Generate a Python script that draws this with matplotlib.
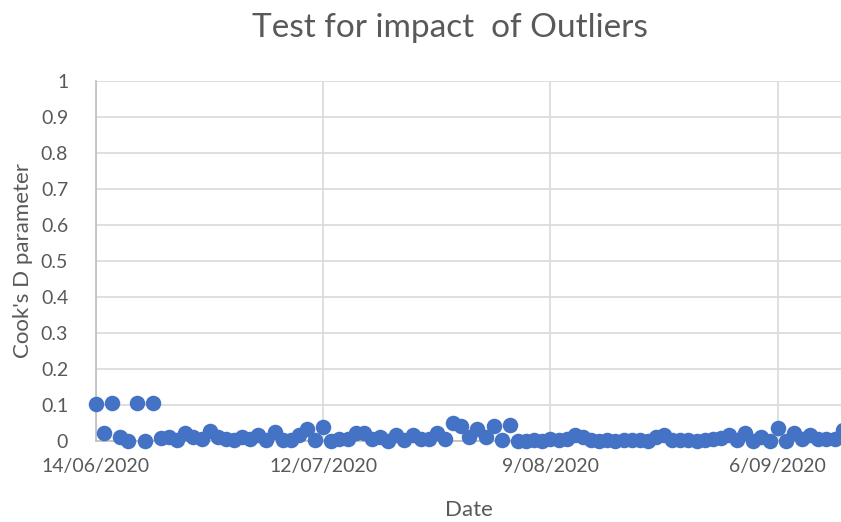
import matplotlib
matplotlib.use("Agg")
import matplotlib.pyplot as plt
import matplotlib.dates as mdates
import pandas as pd
import numpy as np

plt.rcParams['font.family'] = ['Lato', 'DejaVu Sans']

start_date = "2020-06-14"
cooks_d = [
    0.104, 0.021, 0.106, 0.010, 0.001, 0.106, 0.000, 0.106, 0.009, 0.010,
    0.003, 0.023, 0.010, 0.005, 0.028, 0.010, 0.006, 0.003, 0.010, 0.006,
    0.016, 0.003, 0.025, 0.003, 0.003, 0.016, 0.032, 0.003, 0.039, 0.000,
    0.006, 0.005, 0.021, 0.021, 0.006, 0.010, 0.000, 0.016, 0.003, 0.016,
    0.005, 0.005, 0.021, 0.006, 0.051, 0.043, 0.012, 0.032, 0.012, 0.041,
    0.003, 0.044, 0.000, 0.000, 0.003, 0.000, 0.006, 0.003, 0.006, 0.018,
    0.010, 0.003, 0.000, 0.003, 0.000, 0.003, 0.004, 0.003, 0.000, 0.010,
    0.016, 0.003, 0.003, 0.003, 0.000, 0.003, 0.006, 0.008, 0.016, 0.003,
    0.022, 0.000, 0.010, 0.000, 0.035, 0.000, 0.022, 0.006, 0.016, 0.006,
    0.005, 0.005, 0.030,
]
tick_dates = ["2020-06-14", "2020-07-12", "2020-08-09", "2020-09-06"]
tick_labels = ["14/06/2020", "12/07/2020", "9/08/2020", "6/09/2020"]
y_ticks = [0, 0.1, 0.2, 0.3, 0.4, 0.5, 0.6, 0.7, 0.8, 0.9, 1]
y_tick_labels = ["0", "0.1", "0.2", "0.3", "0.4", "0.5", "0.6", "0.7", "0.8", "0.9", "1"]

dates = pd.date_range(start_date, periods=len(cooks_d), freq="D")

fig = plt.figure(figsize=(8.41, 5.22), dpi=100)
ax = fig.add_axes([96/841, 1-441/522, (841-96)/841, (441-81)/522])

grid_c = "#d9d9d9"
text_c = "#595959"

ax.scatter(dates, cooks_d, s=125, color="#4472C4", zorder=3, clip_on=False, linewidths=0)

x0 = mdates.date2num(pd.Timestamp(start_date))
ax.set_xlim(x0, x0 + 91.8)
ax.set_ylim(0, 1)

ax.set_xticks(pd.to_datetime(tick_dates))
ax.set_xticklabels(tick_labels)
ax.set_yticks(y_ticks)
ax.set_yticklabels(y_tick_labels)

ax.grid(True, color=grid_c, linewidth=1.2, zorder=0)
ax.set_axisbelow(True)
for s in ["top", "right"]:
    ax.spines[s].set_visible(False)
for s in ["left", "bottom"]:
    ax.spines[s].set_color("#bfbfbf")
    ax.spines[s].set_linewidth(1.2)

ax.tick_params(axis="both", length=0, labelsize=14, colors=text_c)
ax.tick_params(axis="y", pad=20)
ax.tick_params(axis="x", pad=12)

ax.set_xlabel("Date", fontsize=16, color=text_c, labelpad=18)
ax.set_ylabel("Cook's D parameter", fontsize=16, color=text_c, labelpad=6)

fig.text(450/841, 1-28/522, "Test for impact  of Outliers", fontsize=24,
         color=text_c, ha="center", va="center")

fig.savefig("out.png", dpi=100)
